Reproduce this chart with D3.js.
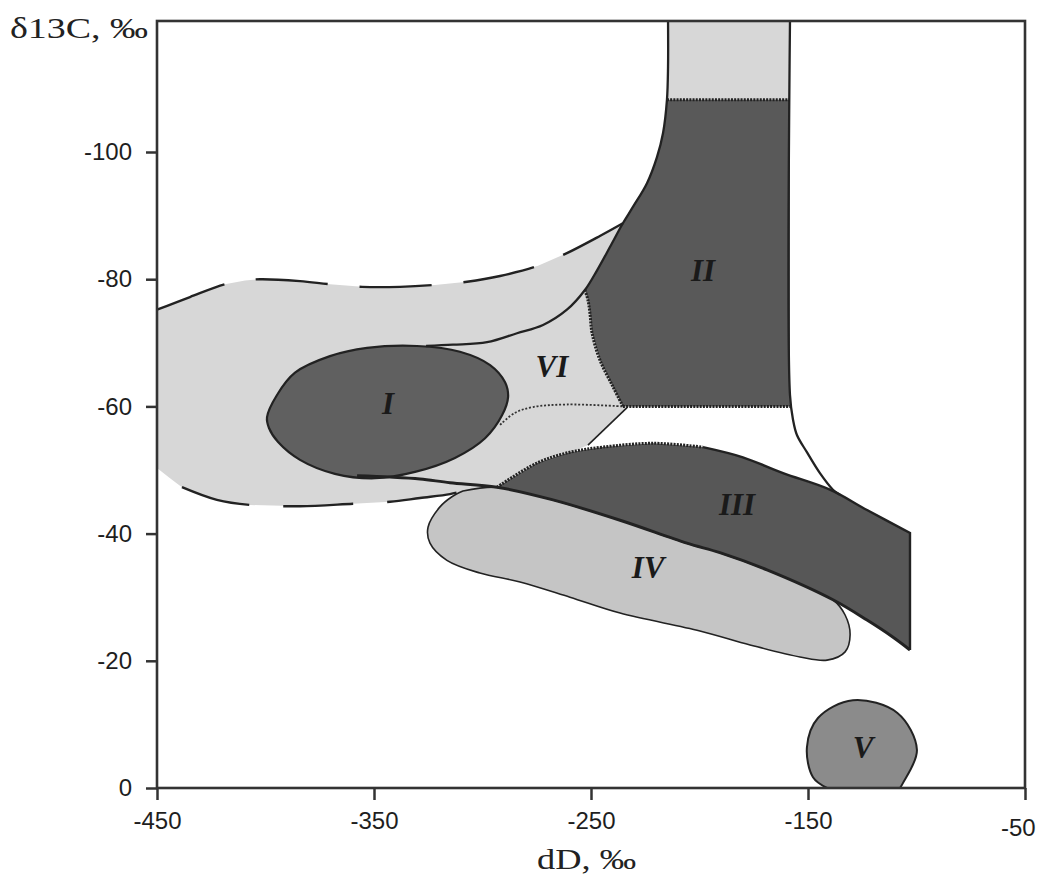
<!DOCTYPE html>
<meta charset="utf-8">
<body style="margin:0;background:#fff">
<script src="https://d3js.org/d3.v7.min.js"></script>
<style>
  .tick text { font-family: "Liberation Sans", Arial, sans-serif; font-size: 24px; fill: #1e1e1e; }
  .tick line { stroke: #333; stroke-width: 2.5; }
  .lbl { font-family: "Liberation Serif", "Times New Roman", serif; font-style: italic; font-weight: bold; font-size: 31px; fill: #1a1a1a; }
  .title { font-family: "Liberation Serif", "Times New Roman", serif; font-size: 30px; fill: #222; }
</style>
<script>
var width = 1041, height = 884;

// axis ticks
var ticksX = [-450, -350, -250, -150, -50];
var ticksY = [0, -20, -40, -60, -80, -100];
var topValue = -120.6;

// outlines, [dD, d13C]
var bandTop = [[-450,-75.2],[-434.8,-77.2],[-418.7,-79.2],[-409.4,-79.8],[-402.5,-80.0],[-384.1,-79.7],
  [-370.3,-79.2],[-355.5,-78.8],[-338.0,-78.8],[-321.9,-79.1],[-307.1,-79.6],[-291.9,-80.5],
  [-274.4,-82.1],[-261.1,-84.1],[-245.9,-86.8],[-235.3,-88.8]];
var bandBottom = [[-438.5,-47.3],[-422.4,-45.3],[-407.1,-44.5],[-384.1,-44.3],[-359.7,-44.7],
  [-342.6,-45.0],[-328.8,-45.6],[-315.0,-46.2],[-309.0,-46.7]];
var bandLeftEnd = [[-444.0,-48.7],[-450,-50.3]];

var bigCurve = [[-214.5,-120.6],[-214.5,-113.4],[-215.0,-108.2],[-216.8,-103.0],[-219.6,-99.2],
  [-224.2,-95.1],[-230.6,-91.4],[-235.3,-88.8],[-241.2,-85.1],[-247.2,-81.4],[-252.8,-78.3],
  [-261.1,-75.2],[-272.1,-72.8],[-284.1,-71.5],[-297.9,-70.1],[-313.6,-69.7],[-326.0,-69.5]];

var twoLeft = [[-252.8,-78.3],[-251.4,-76.7],[-250.5,-74.7],[-249.5,-71.5],[-245.9,-67.3],
  [-239.9,-63.1],[-235.3,-60.0]];
var twoTop = -108.2, twoBottom = -60.0, twoRight = -158.3;

var rightEdge = [[-158.3,-120.6],[-158.3,-61.8],[-156.9,-57.9],[-155.1,-55.5],[-150.5,-52.8],
  [-144.5,-49.5],[-138.5,-46.9],[-135.3,-46.1]];
var corridor = [[-233.4,-59.8],[-251.4,-53.9]];
var sixDotted = [[-291.9,-57.1],[-285.0,-59.0],[-276.7,-59.9],[-261.1,-60.3],[-235.3,-60.0]];

var ellipseI = [[-399.3,-58.3],[-394.7,-61.8],[-386.4,-65.3],[-370.3,-67.9],[-353.2,-69.2],
  [-330.2,-69.5],[-310.4,-68.6],[-296.5,-66.5],[-289.6,-63.8],[-288.2,-61.5],[-291.0,-58.6],
  [-298.8,-55.0],[-312.7,-51.9],[-331.1,-49.7],[-349.5,-48.7],[-368.0,-49.4],[-384.1,-51.6],
  [-394.2,-54.4],[-398.4,-56.6]];

var thickLine = [[-357.8,-49.1],[-342.6,-48.9],[-328.8,-48.6],[-315.0,-48.0],[-293.3,-47.3],
  [-267.5,-45.3],[-236.6,-42.1],[-205.8,-38.5],[-190.6,-37.0],[-168.9,-34.3],[-138.5,-29.6],
  [-122.8,-26.4],[-110.8,-23.7],[-103.0,-21.7]];
var threeTopDotted = [[-293.3,-47.3],[-274.9,-51.1],[-259.7,-52.8],[-244.5,-53.6],[-221.4,-54.2],[-198.4,-53.6]];
var threeTopSolid = [[-198.4,-53.6],[-180.0,-52.0],[-161.5,-49.5],[-139.9,-46.9],[-122.8,-43.7],[-103.0,-40.1]];

var fourTip = [-309.0,-46.7];
var fourRest = [[-132.9,-27.2],[-130.6,-24.1],[-132.9,-21.4],[-141.2,-20.1],[-153.7,-20.6],
  [-176.7,-22.5],[-199.8,-24.7],[-236.6,-27.5],[-259.7,-30.0],[-282.7,-32.4],[-301.2,-33.8],
  [-316.4,-35.8],[-324.2,-38.5],[-325.1,-41.0],[-319.6,-44.2],[-314.1,-45.8],[-309.0,-46.7]];
var fiveOutline = [[-141.2,0],[-147.7,-1.7],[-150.5,-6.4],[-145.4,-11.0],[-129.3,-13.8],
  [-108.8,-11.8],[-99.8,-6.0],[-106.2,-0.8],[-107.6,0]];

var regionNames = ["I", "II", "III", "IV", "V", "VI"];
var regionPos = [[-343.5,-60.5],[-198.4,-81.4],[-182.7,-44.5],[-223.7,-34.7],[-124.6,-6.4],[-268.0,-66.2]];

var x = d3.scaleLinear().domain([-450, -50]).range([157, 1025]);
var y = d3.scaleLinear().domain([0, -100]).range([788, 152]);

var svg = d3.select("body").append("svg")
  .attr("width", width)
  .attr("height", height);

var lin = d3.line().x(function(d) { return x(d[0]); }).y(function(d) { return y(d[1]); });
var smooth = d3.line().x(function(d) { return x(d[0]); }).y(function(d) { return y(d[1]); })
  .curve(d3.curveCatmullRom);
var loopLine = d3.line().x(function(d) { return x(d[0]); }).y(function(d) { return y(d[1]); })
  .curve(d3.curveCatmullRomClosed);

var light = "#d7d7d7", dark = "#595959", ink = "#222";

// big light band
var blob = bandTop
  .concat(bigCurve.slice(8, 11))
  .concat(twoLeft.slice(1))
  .concat(corridor)
  .concat([[-259.7,-52.8],[-274.9,-51.1],[-293.3,-47.3]])
  .concat(bandBottom.slice().reverse())
  .concat(bandLeftEnd);
svg.append("path").attr("d", lin(blob) + "Z").attr("fill", light);

// strip above II
var strip = bigCurve.slice(0, 3).concat([[twoRight, twoTop], [twoRight, topValue]]);
svg.append("path").attr("d", lin(strip) + "Z").attr("fill", light);

// II
var two = bigCurve.slice(2, 11).concat(twoLeft.slice(1)).concat([[twoRight, twoBottom], [twoRight, twoTop]]);
svg.append("path").attr("d", lin(two) + "Z").attr("fill", dark);

// IV (its upper edge runs along the thick line)
var four = [fourTip].concat(thickLine.slice(4, 11)).concat(fourRest);
svg.append("path").attr("d", smooth(four) + "Z")
  .attr("fill", "#c5c5c5").attr("stroke", ink).attr("stroke-width", 1.6);

// III
var three = threeTopDotted.concat(threeTopSolid.slice(1))
  .concat(thickLine.slice(4).reverse());
svg.append("path").attr("d", lin(three) + "Z").attr("fill", "#575757");

// I
svg.append("path").attr("d", loopLine(ellipseI))
  .attr("fill", "#606060").attr("stroke", ink).attr("stroke-width", 2.2);

// V
svg.append("path").attr("d", smooth(fiveOutline) + "Z")
  .attr("fill", "#8b8b8b").attr("stroke", ink).attr("stroke-width", 2);

// lines
svg.append("path").attr("d", smooth(bandTop)).attr("fill", "none")
  .attr("stroke", ink).attr("stroke-width", 2.4).attr("stroke-dasharray", "72,32");
svg.append("path").attr("d", smooth(bandBottom)).attr("fill", "none")
  .attr("stroke", ink).attr("stroke-width", 2.4).attr("stroke-dasharray", "70,34");
svg.append("path").attr("d", smooth(bigCurve)).attr("fill", "none")
  .attr("stroke", ink).attr("stroke-width", 2.3);
svg.append("path").attr("d", smooth(rightEdge)).attr("fill", "none")
  .attr("stroke", ink).attr("stroke-width", 2.3);
svg.append("path").attr("d", lin(corridor)).attr("fill", "none")
  .attr("stroke", ink).attr("stroke-width", 1.6);

var dotted = [
  [[-215.0, twoTop], [twoRight, twoTop]],
  twoLeft,
  [[-235.3, twoBottom], [twoRight, twoBottom]],
  threeTopDotted
];
dotted.forEach(function(seg) {
  svg.append("path").attr("d", smooth(seg)).attr("fill", "none")
    .attr("stroke", ink).attr("stroke-width", 3).attr("stroke-dasharray", "2,1.2");
});
svg.append("path").attr("d", smooth(sixDotted)).attr("fill", "none")
  .attr("stroke", "#333").attr("stroke-width", 1.8).attr("stroke-dasharray", "2,1.8");

svg.append("path").attr("d", smooth(threeTopSolid) + "L" + x(-103) + "," + y(-21.7)).attr("fill", "none")
  .attr("stroke", ink).attr("stroke-width", 2.4);
svg.append("path").attr("d", smooth(thickLine)).attr("fill", "none")
  .attr("stroke", ink).attr("stroke-width", 3);

// labels
svg.selectAll(".lbl").data(regionNames).enter().append("text")
  .attr("class", "lbl")
  .attr("x", function(d, i) { return x(regionPos[i][0]); })
  .attr("y", function(d, i) { return y(regionPos[i][1]); })
  .attr("text-anchor", "middle")
  .attr("dominant-baseline", "central")
  .text(function(d) { return d; });

// frame
svg.append("rect")
  .attr("x", x(-450)).attr("y", y(topValue))
  .attr("width", x(-50) - x(-450)).attr("height", y(0) - y(topValue))
  .attr("fill", "none").attr("stroke", "#333").attr("stroke-width", 2.6);

var xAxis = svg.append("g")
  .attr("transform", "translate(0," + y(0) + ")")
  .call(d3.axisBottom(x).tickValues(ticksX).tickSize(12).tickPadding(12).tickFormat(function(d) { return String(d); }));
xAxis.select(".domain").remove();
xAxis.selectAll(".tick text").filter(function(d) { return d === -50; })
  .attr("dy", "1.0em").attr("dx", "-0.3em");

var yAxis = svg.append("g")
  .attr("transform", "translate(" + x(-450) + ",0)")
  .call(d3.axisLeft(y).tickValues(ticksY).tickSize(11).tickPadding(14).tickFormat(function(d) { return String(d); }));
yAxis.select(".domain").remove();

svg.append("text").attr("class", "title")
  .attr("x", 10).attr("y", 38)
  .attr("textLength", 138).attr("lengthAdjust", "spacingAndGlyphs")
  .text("δ13C, ‰");
svg.append("text").attr("class", "title")
  .attr("x", 537).attr("y", 869)
  .attr("textLength", 99).attr("lengthAdjust", "spacingAndGlyphs")
  .text("dD, ‰");
</script>
</body>
